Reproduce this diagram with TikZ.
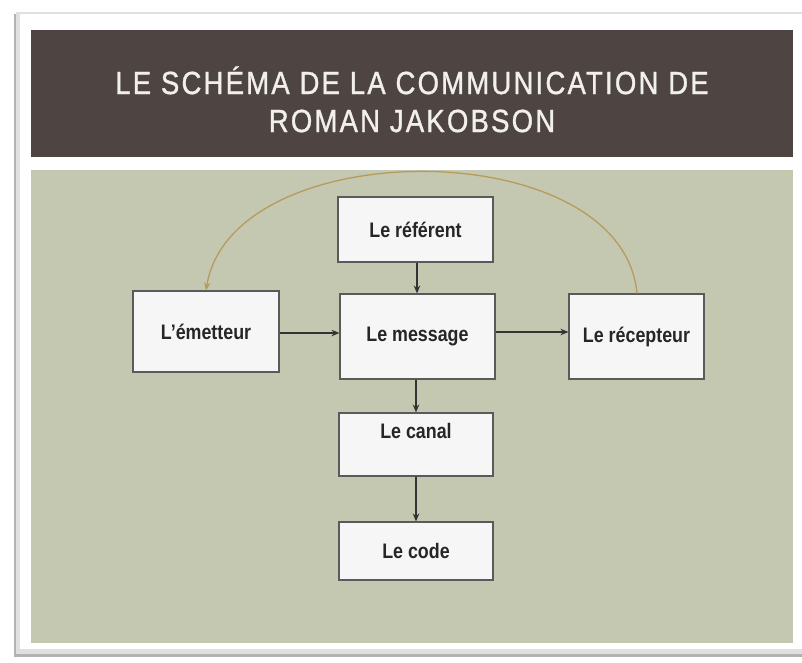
\documentclass[tikz,border=0pt]{standalone}
\usepackage{fontspec}
\setmainfont{Liberation Sans}
\usetikzlibrary{arrows.meta}
\definecolor{band}{HTML}{4E4543}
\definecolor{panel}{HTML}{C4C8B1}
\definecolor{boxfill}{HTML}{F6F6F6}
\definecolor{boxline}{HTML}{5A5A5A}
\definecolor{arcgold}{HTML}{B59B5C}
\definecolor{arrowc}{HTML}{333333}
\definecolor{titletext}{HTML}{F2F0EC}
\tikzset{
  stepbox/.style={draw=boxline, line width=1.1pt, fill=boxfill, rectangle, inner sep=0pt,
    font=\fontsize{21}{24}\selectfont\bfseries, text=black!85},
  flow/.style={draw=arrowc, line width=1.1pt, -{Stealth[length=8pt,width=6.5pt]}},
  back/.style={draw=arcgold, line width=1.3pt, -{Stealth[length=8pt,width=6.5pt]}},
  titlefont/.style={font=\fontsize{32}{38}\selectfont\addfontfeature{LetterSpace=8,FakeBold=1.2}, text=titletext}
}
\newcommand{\nar}[1]{\scalebox{0.85}[1]{#1}}
\begin{document}
\begin{tikzpicture}[x=1pt,y=-1pt]
\useasboundingbox (0,0) rectangle (802,662);
\fill[white] (0,0) rectangle (802,662);
% frame with shadow
\fill[black!30] (14,14) rectangle (802,657);
\fill[black!12] (16,12) rectangle (802,654);
\fill[white] (20,14) rectangle (802,649);
% title band and panel
\fill[band] (31,30) rectangle (793,157);
\fill[panel] (31,170) rectangle (793,643);
\node[titlefont, anchor=base] (t1) at (412,94) {\scalebox{0.86}[1]{LE SCHÉMA DE LA COMMUNICATION DE}};
\node[titlefont, anchor=base] (t2) at (412,132) {\scalebox{0.86}[1]{ROMAN JAKOBSON}};
% boxes
\node[stepbox, minimum width=155pt, minimum height=65pt] (ref) at (415.5,229.5) {\nar{Le référent}};
\node[stepbox, minimum width=155pt, minimum height=85pt] (msg) at (417.5,336.5) {\nar{Le message}};
\node[stepbox, minimum width=146pt, minimum height=81pt] (emet) at (206,331.5) {\nar{L’émetteur}};
\node[stepbox, minimum width=135pt, minimum height=85pt] (recep) at (636.5,336.5) {\nar{Le récepteur}};
\node[stepbox, minimum width=154pt, minimum height=63pt] (canal) at (416,444.5) {\raisebox{6pt}[0pt][0pt]{\nar{Le canal}}};
\node[stepbox, minimum width=154pt, minimum height=58pt] (code) at (416,551) {\nar{Le code}};
% arrows
\draw[flow] (ref.south -| 417,0) -- (msg.north -| 417,0);
\draw[flow] (emet.east |- 0,333) -- (msg.west |- 0,333);
\draw[flow] (msg.east |- 0,332) -- (recep.west |- 0,332);
\draw[flow] (msg.south -| 416,0) -- (canal.north -| 416,0);
\draw[flow] (canal.south) -- (code.north);
\draw[back] (recep.north -| 637,0) .. controls (622,132) and (232,132) .. (emet.north -| 206,0);
\end{tikzpicture}
\end{document}
